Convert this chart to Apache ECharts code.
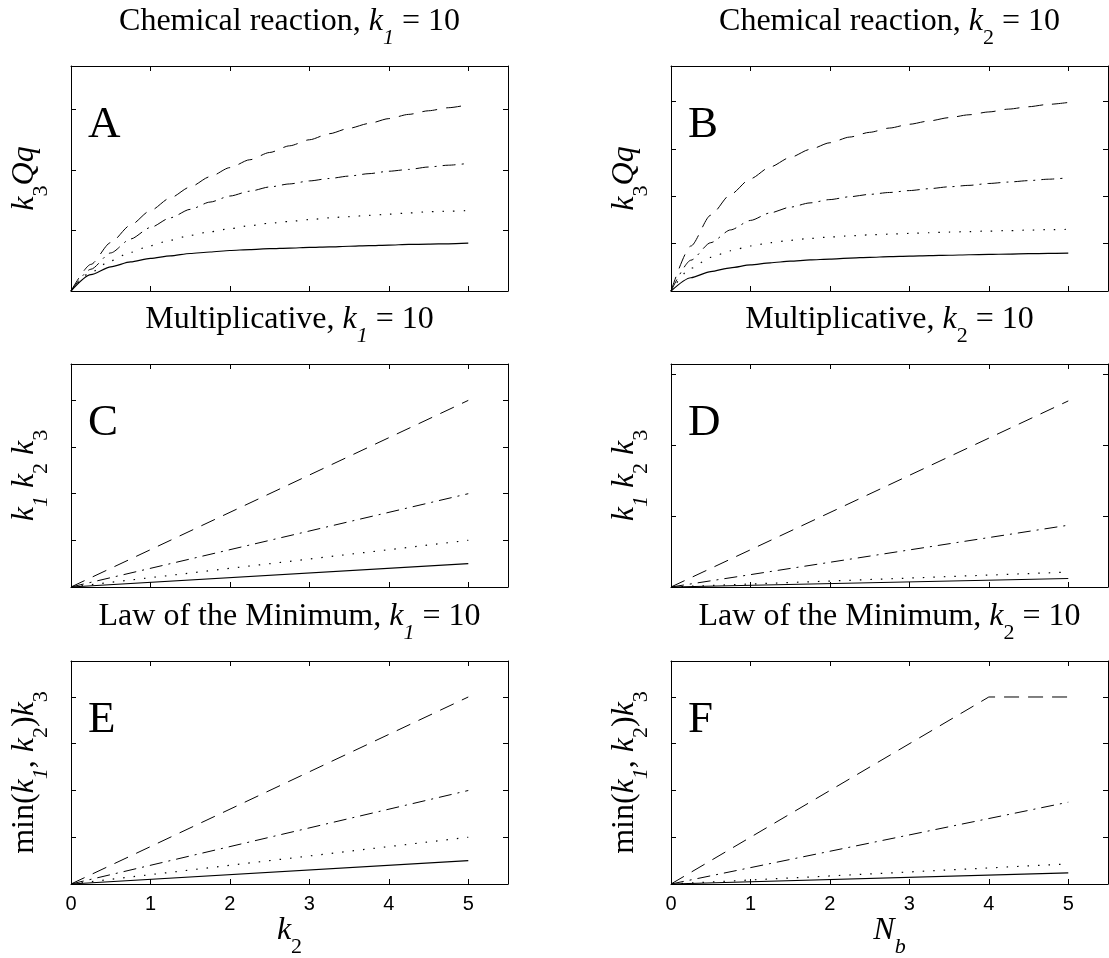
<!DOCTYPE html>
<html>
<head>
<meta charset="utf-8">
<script src="https://cdn.jsdelivr.net/npm/echarts@6/dist/echarts.min.js"></script>
<style>
  html, body { margin: 0; padding: 0; background: #fff; }
  #chart { width: 1109px; height: 958px; }
</style>
</head>
<body>
<div id="chart"></div>
<script>
// ---- data -------------------------------------------------------------
// x samples (k2 for the left column, Nb for the right column)
const xCurve = [0, 0.25, 0.5, 0.75, 1, 1.25, 1.5, 1.75, 2, 2.25, 2.5, 2.75, 3, 3.25, 3.5, 3.75, 4, 4.25, 4.5, 4.75, 5];
const xLine = [0, 5];
const xKink = [0, 4, 5];

// A: chemical reaction, k1 = 10
const chemK1Dashed  = [0, 0.44, 0.80, 1.09, 1.33, 1.54, 1.72, 1.89, 2.04, 2.17, 2.29, 2.40, 2.50, 2.60, 2.69, 2.77, 2.85, 2.92, 2.98, 3.03, 3.08];
const chemK1DashDot = [0, 0.36, 0.63, 0.86, 1.05, 1.21, 1.35, 1.47, 1.57, 1.65, 1.72, 1.77, 1.82, 1.86, 1.90, 1.94, 1.98, 2.01, 2.05, 2.08, 2.11];
const chemK1Dotted  = [0, 0.31, 0.50, 0.64, 0.75, 0.84, 0.92, 0.98, 1.03, 1.08, 1.12, 1.15, 1.18, 1.21, 1.23, 1.25, 1.27, 1.29, 1.31, 1.32, 1.33];
const chemK1Solid   = [0, 0.27, 0.40, 0.48, 0.54, 0.58, 0.62, 0.645, 0.67, 0.685, 0.70, 0.71, 0.72, 0.73, 0.74, 0.75, 0.76, 0.77, 0.775, 0.78, 0.79];

// B: chemical reaction, k2 = 10
const chemK2Dashed  = [0, 0.95, 1.60, 2.04, 2.37, 2.62, 2.82, 2.99, 3.13, 3.25, 3.35, 3.44, 3.52, 3.59, 3.66, 3.72, 3.78, 3.84, 3.89, 3.94, 3.98];
const chemK2DashDot = [0, 0.65, 1.02, 1.29, 1.49, 1.65, 1.77, 1.86, 1.93, 1.99, 2.04, 2.08, 2.12, 2.16, 2.20, 2.23, 2.27, 2.30, 2.33, 2.36, 2.39];
const chemK2Dotted  = [0, 0.48, 0.71, 0.85, 0.95, 1.02, 1.07, 1.11, 1.14, 1.165, 1.185, 1.20, 1.215, 1.23, 1.245, 1.255, 1.265, 1.275, 1.285, 1.295, 1.30];
const chemK2Solid   = [0, 0.28, 0.41, 0.49, 0.55, 0.595, 0.63, 0.655, 0.675, 0.695, 0.71, 0.725, 0.735, 0.745, 0.755, 0.765, 0.772, 0.78, 0.787, 0.794, 0.80];

// C: multiplicative, k1 = 10
const multK1Dashed  = [0, 4.0];
const multK1DashDot = [0, 2.0];
const multK1Dotted  = [0, 1.0];
const multK1Solid   = [0, 0.5];

// D: multiplicative, k2 = 10
const multK2Dashed  = [0, 2.62];
const multK2DashDot = [0, 0.87];
const multK2Dotted  = [0, 0.21];
const multK2Solid   = [0, 0.12];

// E: law of the minimum, k1 = 10
const minK1Dashed  = [0, 4.0];
const minK1DashDot = [0, 2.0];
const minK1Dotted  = [0, 1.0];
const minK1Solid   = [0, 0.5];

// F: law of the minimum, k2 = 10
const minK2Dashed  = [0, 4.0, 4.0];
const minK2DashDot = [0, 1.75];
const minK2Dotted  = [0, 0.43];
const minK2Solid   = [0, 0.24];

// axis extents and tick positions
const xMax = 5.5;
const xTicks = [0, 1, 2, 3, 4, 5];
const yMaxes = [3.72, 4.75, 4.78, 3.14, 4.77, 4.77];
const yTicks = [[1, 2, 3], [1, 2, 3, 4], [1, 2, 3, 4], [1, 2, 3], [1, 2, 3, 4], [1, 2, 3, 4]];

// text
const panelLetters = ['A', 'B', 'C', 'D', 'E', 'F'];
const panelTitles = [
  '{n|Chemical reaction, }{i|k}{s|1}{n| = 10}',
  '{n|Chemical reaction, }{i|k}{u|2}{n| = 10}',
  '{n|Multiplicative, }{i|k}{s|1}{n| = 10}',
  '{n|Multiplicative, }{i|k}{u|2}{n| = 10}',
  '{n|Law of the Minimum, }{i|k}{s|1}{n| = 10}',
  '{n|Law of the Minimum, }{i|k}{u|2}{n| = 10}'
];
const yNames = [
  '{i|k}{u|3}{i|Qq}',
  '{i|k}{u|3}{i|Qq}',
  '{i|k}{s|1}{n| }{i|k}{u|2}{n| }{i|k}{u|3}',
  '{i|k}{s|1}{n| }{i|k}{u|2}{n| }{i|k}{u|3}',
  '{n|min(}{i|k}{s|1}{n|, }{i|k}{u|2}{n|)}{i|k}{u|3}',
  '{n|min(}{i|k}{s|1}{n|, }{i|k}{u|2}{n|)}{i|k}{u|3}'
];
const xNames = ['{i|k}{u|2}', '{i|N}{s|b}'];

// ---- layout & styles --------------------------------------------------
const SERIF = "'Liberation Serif', 'Times New Roman', Times, serif";
const SANS = "'Liberation Sans', Arial, Helvetica, sans-serif";
const colLeft = [71, 671];
const rowTop = [66, 364, 661];
const rowH = [225, 223, 223];
const plotW = 437;

const F = 32, S = 22, SUBPAD = 21;
const rich = {
  n: { fontFamily: SERIF, fontSize: F, lineHeight: F, verticalAlign: 'top', color: '#000' },
  i: { fontFamily: SERIF, fontSize: F, lineHeight: F, fontStyle: 'italic', verticalAlign: 'top', color: '#000' },
  s: { fontFamily: SERIF, fontSize: S, lineHeight: S, fontStyle: 'italic', verticalAlign: 'top', padding: [SUBPAD, 0, 0, 0], color: '#000' },
  u: { fontFamily: SERIF, fontSize: S, lineHeight: S, verticalAlign: 'top', padding: [SUBPAD, 0, 0, 0], color: '#000' }
};

const DASHED = [15, 9];
const DASHDOT = [13, 6, 2, 6];
const DOTTED = [1.5, 9];

const panelData = [
  { xs: [xCurve, xCurve, xCurve, xCurve], ys: [chemK1Dashed, chemK1DashDot, chemK1Dotted, chemK1Solid], smooth: true },
  { xs: [xCurve, xCurve, xCurve, xCurve], ys: [chemK2Dashed, chemK2DashDot, chemK2Dotted, chemK2Solid], smooth: true },
  { xs: [xLine, xLine, xLine, xLine], ys: [multK1Dashed, multK1DashDot, multK1Dotted, multK1Solid], smooth: false },
  { xs: [xLine, xLine, xLine, xLine], ys: [multK2Dashed, multK2DashDot, multK2Dotted, multK2Solid], smooth: false },
  { xs: [xLine, xLine, xLine, xLine], ys: [minK1Dashed, minK1DashDot, minK1Dotted, minK1Solid], smooth: false },
  { xs: [xKink, xLine, xLine, xLine], ys: [minK2Dashed, minK2DashDot, minK2Dotted, minK2Solid], smooth: false }
];
const lineTypes = [DASHED, DASHDOT, DOTTED, 'solid'];
const lineWidths = [1, 1, 1.2, 1.2];

const grid = [], xAxis = [], yAxis = [], series = [], graphic = [];

panelData.forEach((p, k) => {
  const col = k % 2, row = Math.floor(k / 2);
  const left = colLeft[col], top = rowTop[row], h = rowH[row];
  grid.push({ left: left, top: top, width: plotW, height: h, containLabel: false });

  const axisLine = { show: true, onZero: false, lineStyle: { color: '#000', width: 1 } };
  const tick = vals => ({ show: true, inside: true, length: 5, customValues: vals, lineStyle: { color: '#000', width: 1 } });
  const bottomRow = row === 2;

  xAxis.push({
    type: 'value', gridIndex: k, position: 'bottom', min: 0, max: xMax, interval: 1,
    axisLine: axisLine, splitLine: { show: false }, axisTick: tick(xTicks),
    axisLabel: {
      show: bottomRow, customValues: xTicks, margin: 10, color: '#000',
      fontFamily: SANS, fontSize: 20,
      formatter: v => (xTicks.indexOf(v) >= 0 ? String(v) : '')
    }
  });
  xAxis.push({
    type: 'value', gridIndex: k, position: 'top', min: 0, max: xMax, interval: 1,
    axisLine: axisLine, splitLine: { show: false }, axisTick: tick(xTicks), axisLabel: { show: false }
  });
  yAxis.push({
    type: 'value', gridIndex: k, position: 'left', min: 0, max: yMaxes[k], interval: 1,
    axisLine: axisLine, splitLine: { show: false }, axisTick: tick(yTicks[k]), axisLabel: { show: false }
  });
  yAxis.push({
    type: 'value', gridIndex: k, position: 'right', min: 0, max: yMaxes[k], interval: 1,
    axisLine: axisLine, splitLine: { show: false }, axisTick: tick(yTicks[k]), axisLabel: { show: false }
  });

  p.ys.forEach((ys, j) => {
    const xs = p.xs[j];
    series.push({
      type: 'line', xAxisIndex: 2 * k, yAxisIndex: 2 * k,
      data: xs.map((x, i) => [x, ys[i]]),
      symbol: 'none', showSymbol: false, silent: true,
      smooth: p.smooth ? 0.25 : false, smoothMonotone: 'x',
      lineStyle: { color: '#000', width: lineWidths[j], type: lineTypes[j], cap: 'butt' },
      z: 3
    });
  });

  // panel title
  graphic.push({
    type: 'text', x: left + plotW / 2, y: top - 60,
    style: { text: panelTitles[k], rich: rich, align: 'center', verticalAlign: 'top' }
  });
  // panel letter
  graphic.push({
    type: 'text', x: left + 17, y: top + 37,
    style: { text: panelLetters[k], fontFamily: SERIF, fontSize: 45, lineHeight: 45, fill: '#000', align: 'left', verticalAlign: 'top' }
  });
  // y axis name, reading upwards
  graphic.push({
    type: 'text', x: left - 62, y: top + h / 2, rotation: Math.PI / 2,
    style: { text: yNames[k], rich: rich, align: 'center', verticalAlign: 'top' }
  });
  // x axis name on the bottom row
  if (bottomRow) {
    graphic.push({
      type: 'text', x: left + plotW / 2, y: top + h + 31,
      style: { text: xNames[col], rich: rich, align: 'center', verticalAlign: 'top' }
    });
  }
});

const chart = echarts.init(document.getElementById('chart'), null, { renderer: 'canvas' });
chart.setOption({
  backgroundColor: '#fff',
  animation: false,
  grid: grid,
  xAxis: xAxis,
  yAxis: yAxis,
  series: series,
  graphic: { elements: graphic }
});
</script>
</body>
</html>
